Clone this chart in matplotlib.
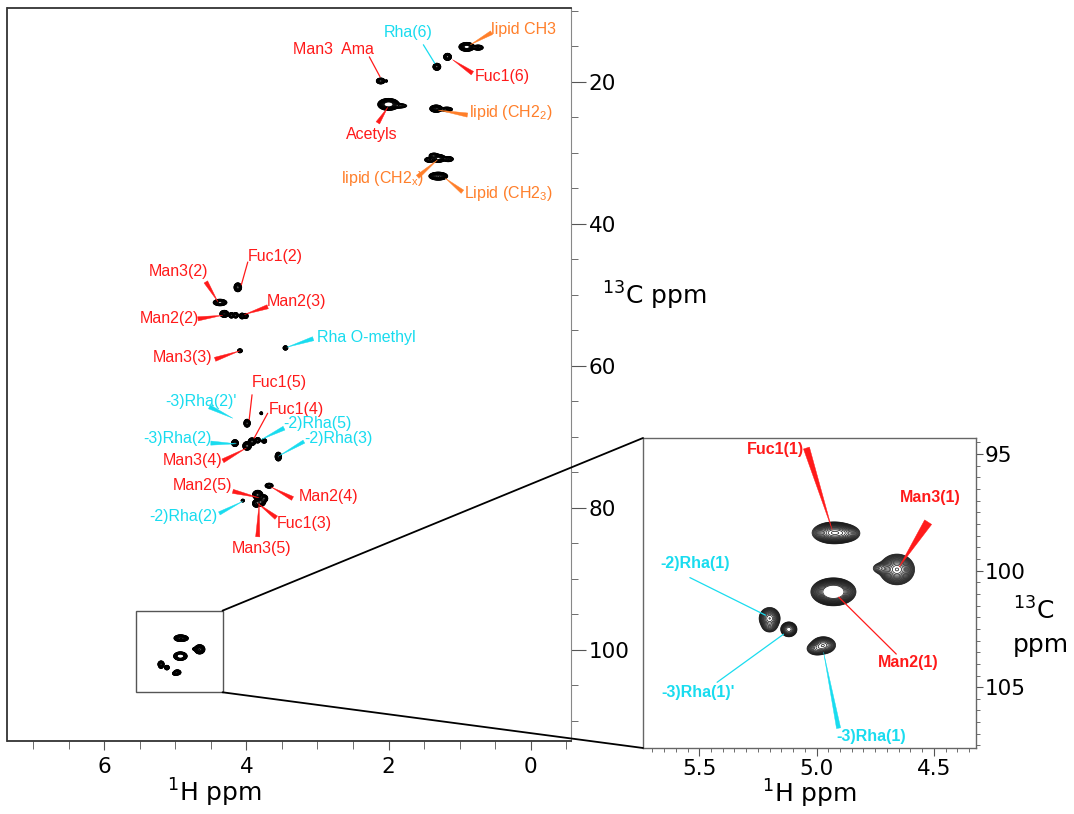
import matplotlib
matplotlib.use("Agg")
import numpy as np
import matplotlib.pyplot as plt
from matplotlib.patches import Rectangle, ConnectionPatch
from matplotlib.ticker import MultipleLocator, FormatStrFormatter

RED = '#ff1a1a'
CYAN = '#19dcef'
ORANGE = '#ff7f2a'

# peak list: 1H shift, 13C shift, height, 1H width, 13C width (ppm)
peak_h = [2.11, 2.03, 2.00, 1.85, 1.32, 1.17, 0.90, 0.74, 1.33, 1.18,
          1.42, 1.30, 1.16, 1.36, 1.30,
          4.12, 4.37, 4.31, 4.21, 4.15, 4.06, 4.01, 4.09, 3.45,
          3.99, 3.79, 4.16, 3.99, 3.92, 3.84, 3.75, 3.55, 3.68,
          3.84, 3.80, 3.75, 3.86, 4.05,
          4.926, 4.880, 4.657, 4.720, 4.928, 5.200, 5.200, 5.118, 4.971, 5.000]
peak_c = [19.9, 19.9, 23.2, 23.4, 17.9, 16.5, 15.1, 15.2, 23.8, 23.9,
          31.0, 30.8, 30.9, 30.4, 33.3,
          48.96, 51.1, 52.7, 52.9, 52.9, 53.0, 53.0, 57.9, 57.5,
          68.1, 66.7, 70.9, 71.3, 70.7, 70.5, 70.6, 72.8, 76.9,
          78.2, 79.2, 78.7, 79.4, 79.0,
          98.38, 98.40, 99.95, 99.90, 100.91, 102.05, 102.40, 102.52, 103.2, 103.35]
peak_amp = [3, 0.4, 20, 1.0, 12, 12, 15, 2, 10, 1.5,
            2, 12, 2, 1.5, 10,
            4, 4, 10, 3, 3, 4, 2, 2, 2,
            4, 0.6, 4, 5, 4, 3, 2, 4, 3,
            8, 6, 3, 4, 0.8,
            9, 2.5, 9, 0.6, 30, 4, 0.6, 3, 3, 1.2]
peak_wh = [0.024, 0.010, 0.047, 0.050, 0.018, 0.018, 0.035, 0.030, 0.030, 0.035,
           0.030, 0.035, 0.030, 0.030, 0.044,
           0.020, 0.036, 0.021, 0.015, 0.015, 0.015, 0.015, 0.014, 0.014,
           0.017, 0.011, 0.018, 0.022, 0.020, 0.015, 0.015, 0.017, 0.022,
           0.025, 0.025, 0.020, 0.020, 0.012,
           0.031, 0.025, 0.025, 0.020, 0.0285, 0.0165, 0.015, 0.0133, 0.020, 0.018]
peak_wc = [0.16, 0.10, 0.26, 0.15, 0.16, 0.16, 0.20, 0.15, 0.17, 0.14,
           0.15, 0.18, 0.15, 0.15, 0.186,
           0.233, 0.17, 0.163, 0.15, 0.15, 0.15, 0.15, 0.115, 0.125,
           0.207, 0.11, 0.18, 0.22, 0.20, 0.15, 0.13, 0.23, 0.135,
           0.22, 0.22, 0.20, 0.20, 0.10,
           0.157, 0.14, 0.22, 0.12, 0.178, 0.173, 0.12, 0.123, 0.14, 0.12]

# assignments on the full spectrum: text, colour, peak, line start, text position, wedge?
main_text = ["Man3  Ama", "Rha(6)", "lipid CH3", "Fuc1(6)", r"lipid (CH2$_\mathregular{2}$)",
             "Acetyls", r"lipid (CH2$_\mathregular{x}$)", r"Lipid (CH2$_\mathregular{3}$)",
             "Fuc1(2)", "Man3(2)", "Man2(3)", "Man2(2)", "Rha O-methyl", "Man3(3)",
             "Fuc1(5)", "-3)Rha(2)'", "Fuc1(4)", "-2)Rha(5)", "-3)Rha(2)", "-2)Rha(3)",
             "Man3(4)", "Man2(5)", "Man2(4)", "-2)Rha(2)", "Fuc1(3)", "Man3(5)"]
main_color = [RED, CYAN, ORANGE, RED, ORANGE, RED, ORANGE, ORANGE,
              RED, RED, RED, RED, CYAN, RED,
              RED, CYAN, RED, CYAN, CYAN, CYAN,
              RED, RED, RED, CYAN, RED, RED]
main_head = [(2.12, 19.3), (1.35, 17.4), (0.85, 14.8), (1.10, 16.9), (1.30, 24.0),
             (2.01, 23.6), (1.31, 31.0), (1.20, 33.6),
             (4.07, 48.6), (4.40, 51.0), (4.03, 52.8), (4.33, 52.9), (3.43, 57.4), (4.09, 57.9),
             (3.96, 67.6), (4.19, 67.4), (3.89, 70.2), (3.79, 70.4), (4.14, 71.0), (3.54, 72.7),
             (4.00, 71.6), (3.82, 78.6), (3.65, 77.1), (4.05, 79.1), (3.84, 79.4), (3.82, 79.4)]
main_tail = [(2.27, 16.5), (1.51, 14.8), (0.55, 13.1), (0.82, 18.8), (0.89, 24.7),
             (2.15, 25.8), (1.59, 33.4), (0.96, 35.5),
             (3.98, 45.4), (4.57, 48.2), (3.70, 51.7), (4.68, 53.4), (3.06, 56.2), (4.44, 59.1),
             (3.92, 64.1), (4.52, 65.8), (3.70, 66.7), (3.47, 68.8), (4.50, 70.9), (3.19, 70.7),
             (4.33, 73.4), (4.19, 77.7), (3.35, 78.7), (4.38, 80.8), (3.58, 81.4), (3.84, 84.1)]
main_pos = [(2.78, 15.4), (1.73, 13.1), (0.105, 12.6), (0.40, 19.2), (0.28, 24.4),
            (2.24, 27.4), (2.09, 33.6), (0.32, 35.7),
            (3.60, 44.6), (4.96, 46.7), (3.29, 51.0), (5.08, 53.3), (2.31, 56.0), (4.90, 58.8),
            (3.53, 62.4), (4.64, 65.0), (3.29, 66.1), (3.00, 68.1), (4.97, 70.2), (2.71, 70.2),
            (4.75, 73.3), (4.62, 76.9), (2.85, 78.4), (4.89, 81.2), (3.19, 82.2), (3.78, 85.7)]
main_wedge = [0, 0, 0.3, 0.3, 0.3, 0.3, 0.3, 0.3,
              0, 0.3, 0.3, 0.3, 0.3, 0.3,
              0, 0.3, 0, 0.3, 0.3, 0.25,
              0.3, 0.3, 0.3, 0.25, 0.3, 0.3]

# assignments in the anomeric expansion
ins_text = ["Fuc1(1)", "Man3(1)", "-2)Rha(1)", "-3)Rha(1)'", "-3)Rha(1)", "Man2(1)"]
ins_color = [RED, RED, CYAN, CYAN, CYAN, RED]
ins_head = [(4.933, 98.26), (4.648, 99.85), (5.218, 101.91), (5.141, 102.73), (4.970, 103.5), (4.905, 101.14)]
ins_tail = [(5.043, 94.74), (4.524, 97.92), (5.540, 100.30), (5.424, 104.79), (4.906, 106.76), (4.660, 103.58)]
ins_pos = [(5.176, 94.79), (4.515, 96.85), (5.518, 99.68), (5.506, 105.21), (4.769, 107.10), (4.610, 103.93)]
ins_wedge = [0.45, 0.6, 0, 0, 0.3, 0]

levels = 0.1 * 1.3 ** np.arange(18)


def spectrum(xg, yg):
    z = np.zeros((len(yg), len(xg)))
    for h, c, a, wh, wc in zip(peak_h, peak_c, peak_amp, peak_wh, peak_wc):
        z += a * np.outer(np.exp(-0.5 * ((yg - c) / wc) ** 2),
                          np.exp(-0.5 * ((xg - h) / wh) ** 2))
    return z


def label(ax, text, color, head, tail, pos, wedge, bold=False):
    if wedge:
        ap = dict(arrowstyle='wedge,tail_width=%s,shrink_factor=0.5' % wedge,
                  fc=color, ec=color, lw=0.3, shrinkA=0, shrinkB=0)
    else:
        ap = dict(arrowstyle='-', color=color, lw=0.9, shrinkA=0, shrinkB=0)
    ax.annotate('', xy=head, xytext=tail, arrowprops=ap, fontsize=10)
    ax.text(pos[0], pos[1], text, color=color, ha='center', va='center',
            fontsize=11.5, family='Liberation Sans',
            fontweight='bold' if bold else 'normal')


W, H = 1074, 814
fig = plt.figure(figsize=(W / 100, H / 100), dpi=100)
plt.rcParams['font.family'] = 'DejaVu Sans'

ax = fig.add_axes([7.5 / W, 1 - 741 / H, (571 - 7.5) / W, (741 - 8) / H])
ax_in = fig.add_axes([643 / W, 1 - 748 / H, (976 - 643) / W, (748 - 438) / H])

# full spectrum
xg = np.linspace(-0.6, 7.4, 2200)
yg = np.linspace(9.5, 113.5, 1400)
ax.contour(xg, yg, spectrum(xg, yg), levels=levels, colors='k', linewidths=0.6)
ax.set_xlim(7.36, -0.567)
ax.set_ylim(112.86, 9.62)

# expansion
xi = np.linspace(4.3, 5.8, 700)
yi = np.linspace(94.0, 108.0, 700)
ax_in.contour(xi, yi, spectrum(xi, yi), levels=levels, colors='#111', linewidths=0.5)
ax_in.set_xlim(5.74, 4.32)
ax_in.set_ylim(107.61, 94.31)

for t, c, hd, tl, p, w in zip(main_text, main_color, main_head, main_tail, main_pos, main_wedge):
    label(ax, t, c, hd, tl, p, w)
for t, c, hd, tl, p, w in zip(ins_text, ins_color, ins_head, ins_tail, ins_pos, ins_wedge):
    label(ax_in, t, c, hd, tl, p, w, bold=True)

# axes styling
for a in (ax, ax_in):
    a.yaxis.tick_right()
    a.tick_params(labelsize=15.5, colors='#555', labelcolor='k')
for s in ('left', 'top', 'bottom'):
    ax.spines[s].set_color('#333')
    ax.spines[s].set_linewidth(1.3)
ax.spines['right'].set_color('#888')
for s in ax_in.spines.values():
    s.set_color('#666')
    s.set_linewidth(1.0)

ax.xaxis.set_major_locator(MultipleLocator(2))
ax.xaxis.set_minor_locator(MultipleLocator(0.5))
ax.yaxis.set_major_locator(MultipleLocator(20))
ax.yaxis.set_minor_locator(MultipleLocator(5))
ax.tick_params(axis='x', which='major', length=6.5, pad=5)
ax.tick_params(axis='x', which='minor', length=5.5, color='#555')
ax.tick_params(axis='y', which='major', length=10.8, pad=2)
ax.tick_params(axis='y', which='minor', length=5, color='#555')

ax_in.xaxis.set_major_locator(MultipleLocator(0.5))
ax_in.xaxis.set_minor_locator(MultipleLocator(0.05))
ax_in.xaxis.set_major_formatter(FormatStrFormatter('%.1f'))
ax_in.yaxis.set_major_locator(MultipleLocator(5))
ax_in.yaxis.set_minor_locator(MultipleLocator(0.5))
ax_in.tick_params(axis='x', which='major', length=6, pad=2)
ax_in.tick_params(axis='x', which='minor', length=3, color='#555')
ax_in.tick_params(axis='y', which='major', length=5.3, pad=1)
ax_in.tick_params(axis='y', which='minor', length=3, color='#555')

# zoom box and connectors
box_x0, box_x1, box_y0, box_y1 = 4.335, 5.553, 94.5, 106.0
ax.add_patch(Rectangle((box_x0, box_y0), box_x1 - box_x0, box_y1 - box_y0,
                       fill=False, ec='#555', lw=1.0))
for yb, yin in ((box_y0, 1), (box_y1, 0)):
    con = ConnectionPatch(xyA=(box_x0, yb), coordsA=ax.transData,
                          xyB=(0, yin), coordsB=ax_in.transAxes, color='k', lw=1.3)
    fig.add_artist(con)

# axis titles
fig.text(214.6 / W, 1 - 802 / H, r'$^1$H ppm', fontsize=18, ha='center', va='baseline')
fig.text(809.5 / W, 1 - 803 / H, r'$^1$H ppm', fontsize=18, ha='center', va='baseline')
fig.text(602 / W, 1 - 305 / H, r'$^{13}$C ppm', fontsize=18, ha='left', va='baseline')
fig.text(1013 / W, 1 - 620 / H, r'$^{13}$C', fontsize=18, ha='left', va='baseline')
fig.text(1013 / W, 1 - 652 / H, 'ppm', fontsize=18, ha='left', va='baseline')

fig.savefig('out.png', dpi=100)
